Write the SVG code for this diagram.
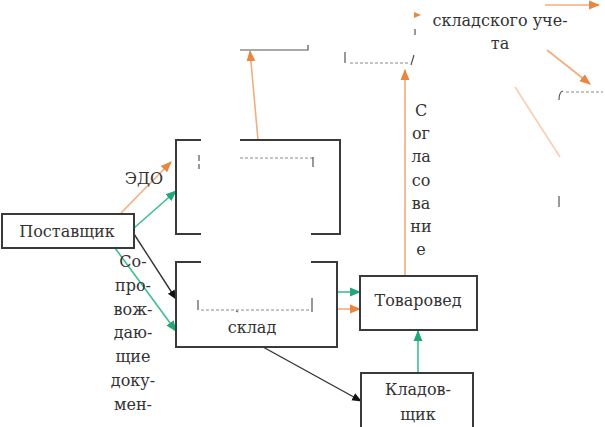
<svg xmlns="http://www.w3.org/2000/svg" width="605" height="427" viewBox="0 0 605 427">
<defs>
<style>
.box{fill:none;stroke:#3a3a3a;stroke-width:2}
.t{font-family:'DejaVu Serif','Liberation Serif',serif;font-size:16px;fill:#333;text-anchor:middle}
.or{stroke:#f2ad7e;stroke-width:1.6;fill:none}
.gr{stroke:#3cc08c;stroke-width:1.6;fill:none}
.bk{stroke:#333;stroke-width:1.4;fill:none}
.frag{stroke:#555;stroke-width:1.2;fill:none}
.dash{stroke:#888;stroke-width:1;stroke-dasharray:3 2;fill:none}
</style>
<marker id="ao" viewBox="0 0 10 10" refX="9" refY="5" markerWidth="7" markerHeight="7" orient="auto"><path d="M0,1 L10,5 L0,9 z" fill="#e8873f"/></marker>
<marker id="ag" viewBox="0 0 10 10" refX="9" refY="5" markerWidth="7" markerHeight="7" orient="auto"><path d="M0,1 L10,5 L0,9 z" fill="#22a877"/></marker>
<marker id="ab" viewBox="0 0 10 10" refX="9" refY="5" markerWidth="7" markerHeight="7" orient="auto"><path d="M0,1 L10,5 L0,9 z" fill="#111"/></marker>
</defs>
<rect width="605" height="427" fill="#fff"/>

<g id="connectors">
<line class="or" x1="121" y1="213" x2="171" y2="162" marker-end="url(#ao)"/>
<line class="gr" x1="134" y1="228" x2="176" y2="191" marker-end="url(#ag)"/>
<line class="bk" x1="134" y1="234" x2="176" y2="299" marker-end="url(#ab)"/>
<line class="gr" x1="115" y1="248" x2="176" y2="331" marker-end="url(#ag)"/>
<line class="gr" x1="337" y1="292" x2="360" y2="292" marker-end="url(#ag)"/>
<line class="or" x1="337" y1="309" x2="360" y2="309" marker-end="url(#ao)"/>
<line class="gr" x1="418" y1="373" x2="418" y2="331" marker-end="url(#ag)"/>
<line class="bk" x1="263" y1="347" x2="361" y2="401" marker-end="url(#ab)"/>
<line class="or" x1="405" y1="276" x2="405" y2="70" marker-end="url(#ao)"/>
<line class="or" x1="258" y1="140" x2="250" y2="51" marker-end="url(#ao)"/>
<line class="or" x1="545" y1="5" x2="599" y2="5" marker-end="url(#ao)"/>
<line class="or" x1="547" y1="50" x2="590" y2="84" marker-end="url(#ao)"/>
<line class="or" x1="515" y1="87" x2="560" y2="157" opacity="0.6"/>
<path d="M414,12 l7,3 l-7,3 z" fill="#e8873f"/>
</g>

<g id="supplier">
<rect class="box" x="2" y="214" width="132" height="34"/>
<text class="t" x="67" y="237">Поставщик</text>
</g>

<g id="edo-node">
<path class="box" d="M201,140 H176 V234 H201 M240,140 H340 V234 H311"/>
<path class="dash" d="M240,158 H313"/>
<path class="frag" d="M313,157 V167 M199,155 V161 M199,164 V169"/>
</g>

<g id="warehouse">
<path class="box" d="M201,262 H176 V347 H337 V262 H311"/>
<path class="dash" d="M201,310 H311"/>
<path class="frag" d="M198,300 V310 M312,298 V312 M236,311 l2,1"/>
<text class="t" x="252" y="333">склад</text>
</g>

<g id="merchandiser">
<rect class="box" x="360" y="276" width="117" height="54"/>
<text class="t" x="418" y="306">Товаровед</text>
</g>

<g id="storekeeper">
<path class="box" d="M361,428 V373 H473 V428"/>
<text class="t" x="418" y="395">Кладов-</text>
<text class="t" x="418" y="420">щик</text>
</g>

<g id="top-fragments">
<path class="frag" d="M240,50 H308 V45" stroke="#3a3a3a" stroke-width="1.6"/>
<path class="frag" d="M345,52 V63"/>
<path class="dash" d="M350,63 H410"/>
<path class="frag" d="M414,55 L411,65 M415,29 V35"/>
<text class="t" x="500" y="26">складского уче-</text>
<text class="t" x="500" y="49">та</text>
<path class="frag" d="M563,91 Q559,92 559,100" stroke="#333" stroke-width="2"/>
<path class="dash" d="M566,92 H603"/>
<path class="frag" d="M559,196 V207"/>
</g>

<g id="labels">
<text class="t" x="144" y="184">ЭДО</text>
<text class="t" x="133" y="267">Со-</text>
<text class="t" x="133" y="291">про-</text>
<text class="t" x="133" y="315">вож-</text>
<text class="t" x="133" y="338">даю-</text>
<text class="t" x="133" y="362">щие</text>
<text class="t" x="133" y="386">доку-</text>
<text class="t" x="133" y="410">мен-</text>
<text class="t" x="421" y="116">С</text>
<text class="t" x="421" y="139">ог</text>
<text class="t" x="421" y="162">ла</text>
<text class="t" x="421" y="186">со</text>
<text class="t" x="421" y="209">ва</text>
<text class="t" x="421" y="232">ни</text>
<text class="t" x="421" y="255">е</text>
</g>
</svg>
